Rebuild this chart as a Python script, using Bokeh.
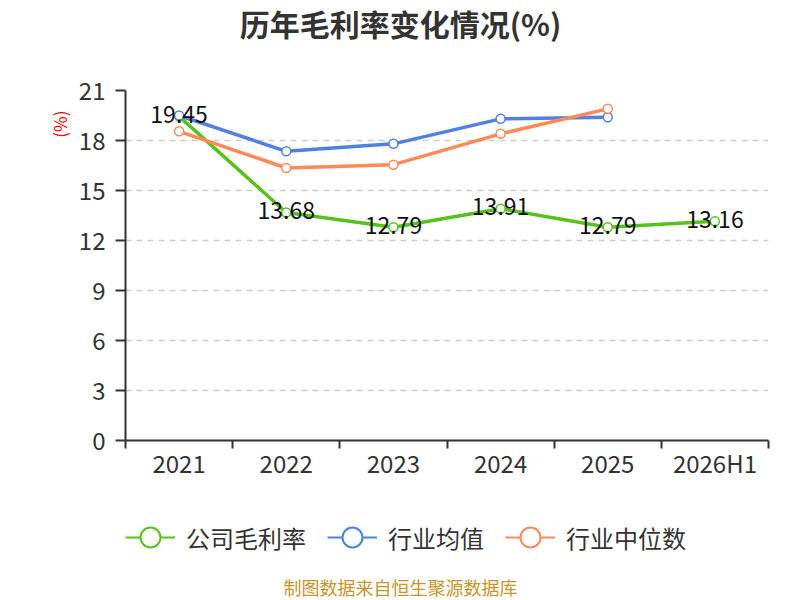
from bokeh.plotting import figure
from bokeh.layouts import column
from bokeh.models import (Range1d, FixedTicker, Legend, LegendItem, Title)
from bokeh.core.properties import value
from bokeh.embed import file_html
from bokeh.resources import INLINE

categories = ["2021", "2022", "2023", "2024", "2025", "2026H1"]
company = [19.45, 13.68, 12.79, 13.91, 12.79, 13.16]
industry_mean = [19.5, 17.35, 17.8, 19.3, 19.4]
industry_median = [18.55, 16.35, 16.55, 18.4, 19.9]
y_ticks = [0, 3, 6, 9, 12, 15, 18, 21]

title_text = "历年毛利率变化情况(%)"
source_text = "制图数据来自恒生聚源数据库"
y_name = "(%)"
series_names = ["公司毛利率", "行业均值", "行业中位数"]
colors = ["#58c21c", "#4f80e2", "#ff8a58"]

FONT = "Noto Sans CJK SC"
W = 800
LEFT, RIGHT = 125, 32


def blank(height):
    # frames in a column are aligned, so use the same borders and page-like x units
    f = figure(width=W, height=height, output_backend="svg", toolbar_location=None,
               x_range=Range1d(LEFT, W - RIGHT), y_range=Range1d(0, height),
               x_axis_type=None, y_axis_type=None, min_border=0,
               min_border_left=LEFT, min_border_right=RIGHT)
    f.outline_line_color = None
    f.xgrid.grid_line_color = None
    f.ygrid.grid_line_color = None
    f.border_fill_color = "white"
    f.background_fill_color = "white"
    return f


# ---- header with title
head = blank(60)
head.text(x=[W / 2], y=[60 - 22], text=[title_text], text_font=value(FONT),
          text_font_size="30px", text_font_style="bold", text_color="#333333",
          text_align="center", text_baseline="middle")

# ---- main chart
xs = [i + 0.5 for i in range(len(categories))]

p = figure(width=W, height=440, output_backend="svg", toolbar_location=None,
           x_range=Range1d(0, len(categories)), y_range=Range1d(0, 21),
           min_border_left=LEFT, min_border_right=RIGHT, min_border_top=30,
           min_border_bottom=60)
p.outline_line_color = None
p.background_fill_color = "white"
p.border_fill_color = "white"

ya = p.yaxis[0]
ya.ticker = FixedTicker(ticks=y_ticks)
ya.axis_line_color = "#333333"
ya.axis_line_width = 2
ya.major_tick_line_color = "#333333"
ya.major_tick_line_width = 2
ya.major_tick_out = 10
ya.major_tick_in = 0
ya.minor_tick_line_color = None
ya.major_label_text_font = FONT
ya.major_label_text_font_size = "24px"
ya.major_label_text_color = "#333333"
ya.major_label_standoff = 10

xa = p.xaxis[0]
xa.ticker = FixedTicker(ticks=xs, minor_ticks=list(range(len(categories) + 1)))
xa.major_label_overrides = {x: c for x, c in zip(xs, categories)}
xa.axis_line_color = "#333333"
xa.axis_line_width = 2
xa.major_tick_line_color = None
xa.minor_tick_line_color = "#333333"
xa.minor_tick_line_width = 2
xa.minor_tick_out = 8
xa.minor_tick_in = 0
xa.major_label_text_font = FONT
xa.major_label_text_font_size = "24px"
xa.major_label_text_color = "#333333"
xa.major_label_standoff = -4

p.xgrid.grid_line_color = None
p.ygrid.ticker = FixedTicker(ticks=y_ticks[1:])
p.ygrid.grid_line_color = "#cccccc"
p.ygrid.grid_line_width = 1.5
p.ygrid.grid_line_dash = "6 5"

series = [company, industry_mean, industry_median]
for vals, col in zip(series, colors):
    sx = xs[:len(vals)]
    p.line(sx, vals, line_color=col, line_width=3.5)
    p.scatter(sx, vals, size=9, marker="circle", fill_color="white",
              line_color=col, line_width=1.5)

p.text(x=xs, y=company, text=[f"{v:.2f}" for v in company],
       text_font=value(FONT), text_font_size="23px", text_color="#111111",
       text_align="center", text_baseline="middle", y_offset=-2)

p.add_layout(Title(text=y_name, align="right", offset=20, standoff=8,
                   text_font=FONT, text_font_size="17px",
                   text_font_style="normal", text_color="#ff0000"), "left")

# ---- footer with legend and source
foot = blank(100)
items = []
for name, col in zip(series_names, colors):
    # legend proxies: one point far outside the visible range
    lr = foot.line(x=[-1000, -999], y=[-1000, -1000], line_color=col, line_width=2)
    sr = foot.scatter(x=[-1000], y=[-1000], marker="circle", size=20,
                      fill_color="white", line_color=col, line_width=2)
    items.append(LegendItem(label=name, renderers=[lr, sr]))

legend = Legend(items=items, orientation="horizontal", location=(0, 38),
                glyph_width=50, glyph_height=50, label_standoff=11, spacing=21,
                padding=0, margin=0, border_line_color=None,
                background_fill_alpha=0,
                label_text_font=FONT, label_text_font_size="24px",
                label_text_color="#333333")
foot.add_layout(legend, "center")

foot.text(x=[W / 2], y=[14], text=[source_text], text_font=value(FONT),
          text_font_size="18px", text_color="#c9952b",
          text_align="center", text_baseline="middle")

layout = column(head, p, foot, spacing=0)
open("out.html", "w").write(file_html(layout, INLINE))
